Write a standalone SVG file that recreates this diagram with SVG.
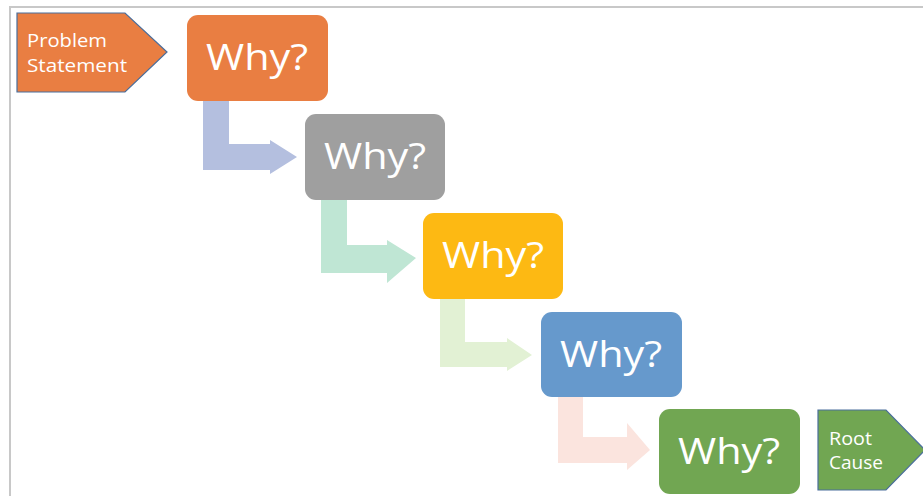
<svg xmlns="http://www.w3.org/2000/svg" width="923" height="497" viewBox="0 0 923 497">
<style>
.why{font-family:"Open Sans","Liberation Sans",sans-serif;font-size:36px;fill:#fff;text-anchor:middle}
.lbl{font-family:"Open Sans","Liberation Sans",sans-serif;font-size:19px;fill:#fff}
.pent{stroke:#4a6e9c;stroke-width:1.2}
</style>
<rect x="0" y="0" width="923" height="497" fill="#fff"/>
<g id="frame" fill="none" stroke="#c8c8c8" stroke-width="2">
<path d="M10,496 V7 H923"/>
</g>
<g id="connectors">
<path d="M203,101 H229 V144 H270 V140 L297,157 L270,174 V170 H203 Z" fill="#b4bfdf"/>
<path d="M321,200 H347 V245 H387 V240 L416,258 L387,283 V273 H321 Z" fill="#bfe6d4"/>
<path d="M440,299 H465 V342 H507 V338 L532,355 L507,371 V367 H440 Z" fill="#e2f1d4"/>
<path d="M558,397 H583 V437 H627 V423 L650,450 L627,470 V463 H558 Z" fill="#fbe4de"/>
</g>
<g id="problem">
<polygon class="pent" points="17,13 125,13 167,52 125,92 17,92" fill="#e97e42"/>
<text class="lbl" x="27" y="47" textLength="80" lengthAdjust="spacingAndGlyphs">Problem</text>
<text class="lbl" x="27" y="72" textLength="100" lengthAdjust="spacingAndGlyphs">Statement</text>
</g>
<g id="why1">
<rect x="187" y="15" width="141" height="86" rx="11" fill="#e97e42"/>
<text class="why" x="257" y="70" textLength="102" lengthAdjust="spacingAndGlyphs">Why?</text>
</g>
<g id="why2">
<rect x="305" y="114" width="140" height="86" rx="11" fill="#9f9f9f"/>
<text class="why" x="375" y="169" textLength="102" lengthAdjust="spacingAndGlyphs">Why?</text>
</g>
<g id="why3">
<rect x="423" y="213" width="140" height="86" rx="11" fill="#fdb913"/>
<text class="why" x="493" y="268" textLength="102" lengthAdjust="spacingAndGlyphs">Why?</text>
</g>
<g id="why4">
<rect x="541" y="312" width="141" height="85" rx="11" fill="#6699cc"/>
<text class="why" x="611" y="367" textLength="102" lengthAdjust="spacingAndGlyphs">Why?</text>
</g>
<g id="why5">
<rect x="659" y="409" width="141" height="85" rx="11" fill="#71a652"/>
<text class="why" x="729" y="464" textLength="102" lengthAdjust="spacingAndGlyphs">Why?</text>
</g>
<g id="root">
<polygon class="pent" points="818,410 886,410 925,450 886,490 818,490" fill="#71a652"/>
<text class="lbl" x="829" y="445" textLength="43" lengthAdjust="spacingAndGlyphs">Root</text>
<text class="lbl" x="829" y="469" textLength="54" lengthAdjust="spacingAndGlyphs">Cause</text>
</g>
</svg>
